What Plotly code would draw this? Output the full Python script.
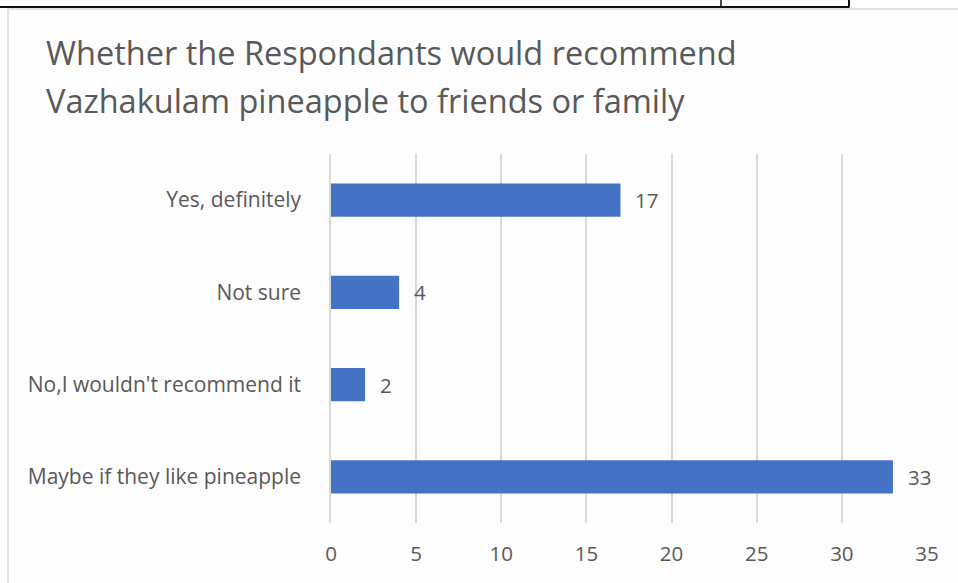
import plotly.graph_objects as go

# Survey responses (bottom-to-top order as drawn)
categories = [
    "Maybe if they like pineapple",
    "No,I wouldn't recommend it",
    "Not sure",
    "Yes, definitely",
]
counts = [33, 2, 4, 17]
x_ticks = [0, 5, 10, 15, 20, 25, 30, 35]

title_lines = [
    "Whether the Respondants would recommend",
    "Vazhakulam pineapple to friends or family",
]

W, H = 958, 583
L, R, T, B = 331, 31, 154, 60
PW, PH = W - L - R, H - T - B

FONT = "Open Sans"
TEXT = "#595959"
BAR = "#4472C4"
GRID = "#d9d9d9"
LBL = 21


def px(x):
    return (x - L) / PW


def py(y):
    return (H - B - y) / PH


fig = go.Figure()
fig.add_trace(go.Bar(
    y=categories,
    x=counts,
    orientation="h",
    marker=dict(color=BAR, line=dict(width=0)),
    width=0.36,
    hoverinfo="x+y",
))

# value labels to the right of each bar
for c, v in zip(categories, counts):
    fig.add_annotation(
        x=v, y=c, text=str(v), showarrow=False,
        xanchor="left", xshift=13,
        font=dict(family=FONT, size=20.5, color=TEXT),
    )

# two-line chart title
for i, line in enumerate(title_lines):
    fig.add_annotation(
        text=line, showarrow=False,
        xref="paper", yref="paper",
        x=px(44), y=py(52 + 48 * i),
        xanchor="left", yanchor="middle",
        font=dict(family=FONT, size=32.5, color=TEXT),
    )

shapes = [
    # chart frame
    dict(type="rect", xref="paper", yref="paper",
         x0=px(8), x1=px(962), y0=py(9), y1=py(590),
         fillcolor="#fdfdfd", line=dict(color=GRID, width=1.5), layer="below"),
    # table border above the chart
    dict(type="line", xref="paper", yref="paper",
         x0=px(-2), x1=px(849.5), y0=py(7), y1=py(7),
         line=dict(color="#111111", width=2)),
    dict(type="line", xref="paper", yref="paper",
         x0=px(721), x1=px(721), y0=py(-2), y1=py(7),
         line=dict(color="#111111", width=1.5)),
    dict(type="line", xref="paper", yref="paper",
         x0=px(849), x1=px(849), y0=py(-2), y1=py(7),
         line=dict(color="#111111", width=2)),
]

fig.update_layout(
    width=W, height=H,
    margin=dict(l=L, r=R, t=T, b=B),
    paper_bgcolor="white",
    plot_bgcolor="rgba(0,0,0,0)",
    showlegend=False,
    shapes=shapes,
    font=dict(family=FONT, color=TEXT),
    xaxis=dict(
        range=[0, 35],
        tickvals=x_ticks,
        showgrid=True, gridcolor=GRID, gridwidth=1.5,
        zeroline=False, showline=False,
        tickfont=dict(family=FONT, size=20.5, color=TEXT),
        ticks="", ticklabelstandoff=16,
        fixedrange=True,
    ),
    yaxis=dict(
        categoryorder="array", categoryarray=categories,
        range=[-0.5, 3.5],
        showgrid=False, zeroline=False,
        showline=True, linecolor=GRID, linewidth=1.5,
        tickfont=dict(family=FONT, size=LBL, color=TEXT),
        ticks="", ticklabelstandoff=24,
        fixedrange=True,
    ),
)

fig.write_html("out.html")
